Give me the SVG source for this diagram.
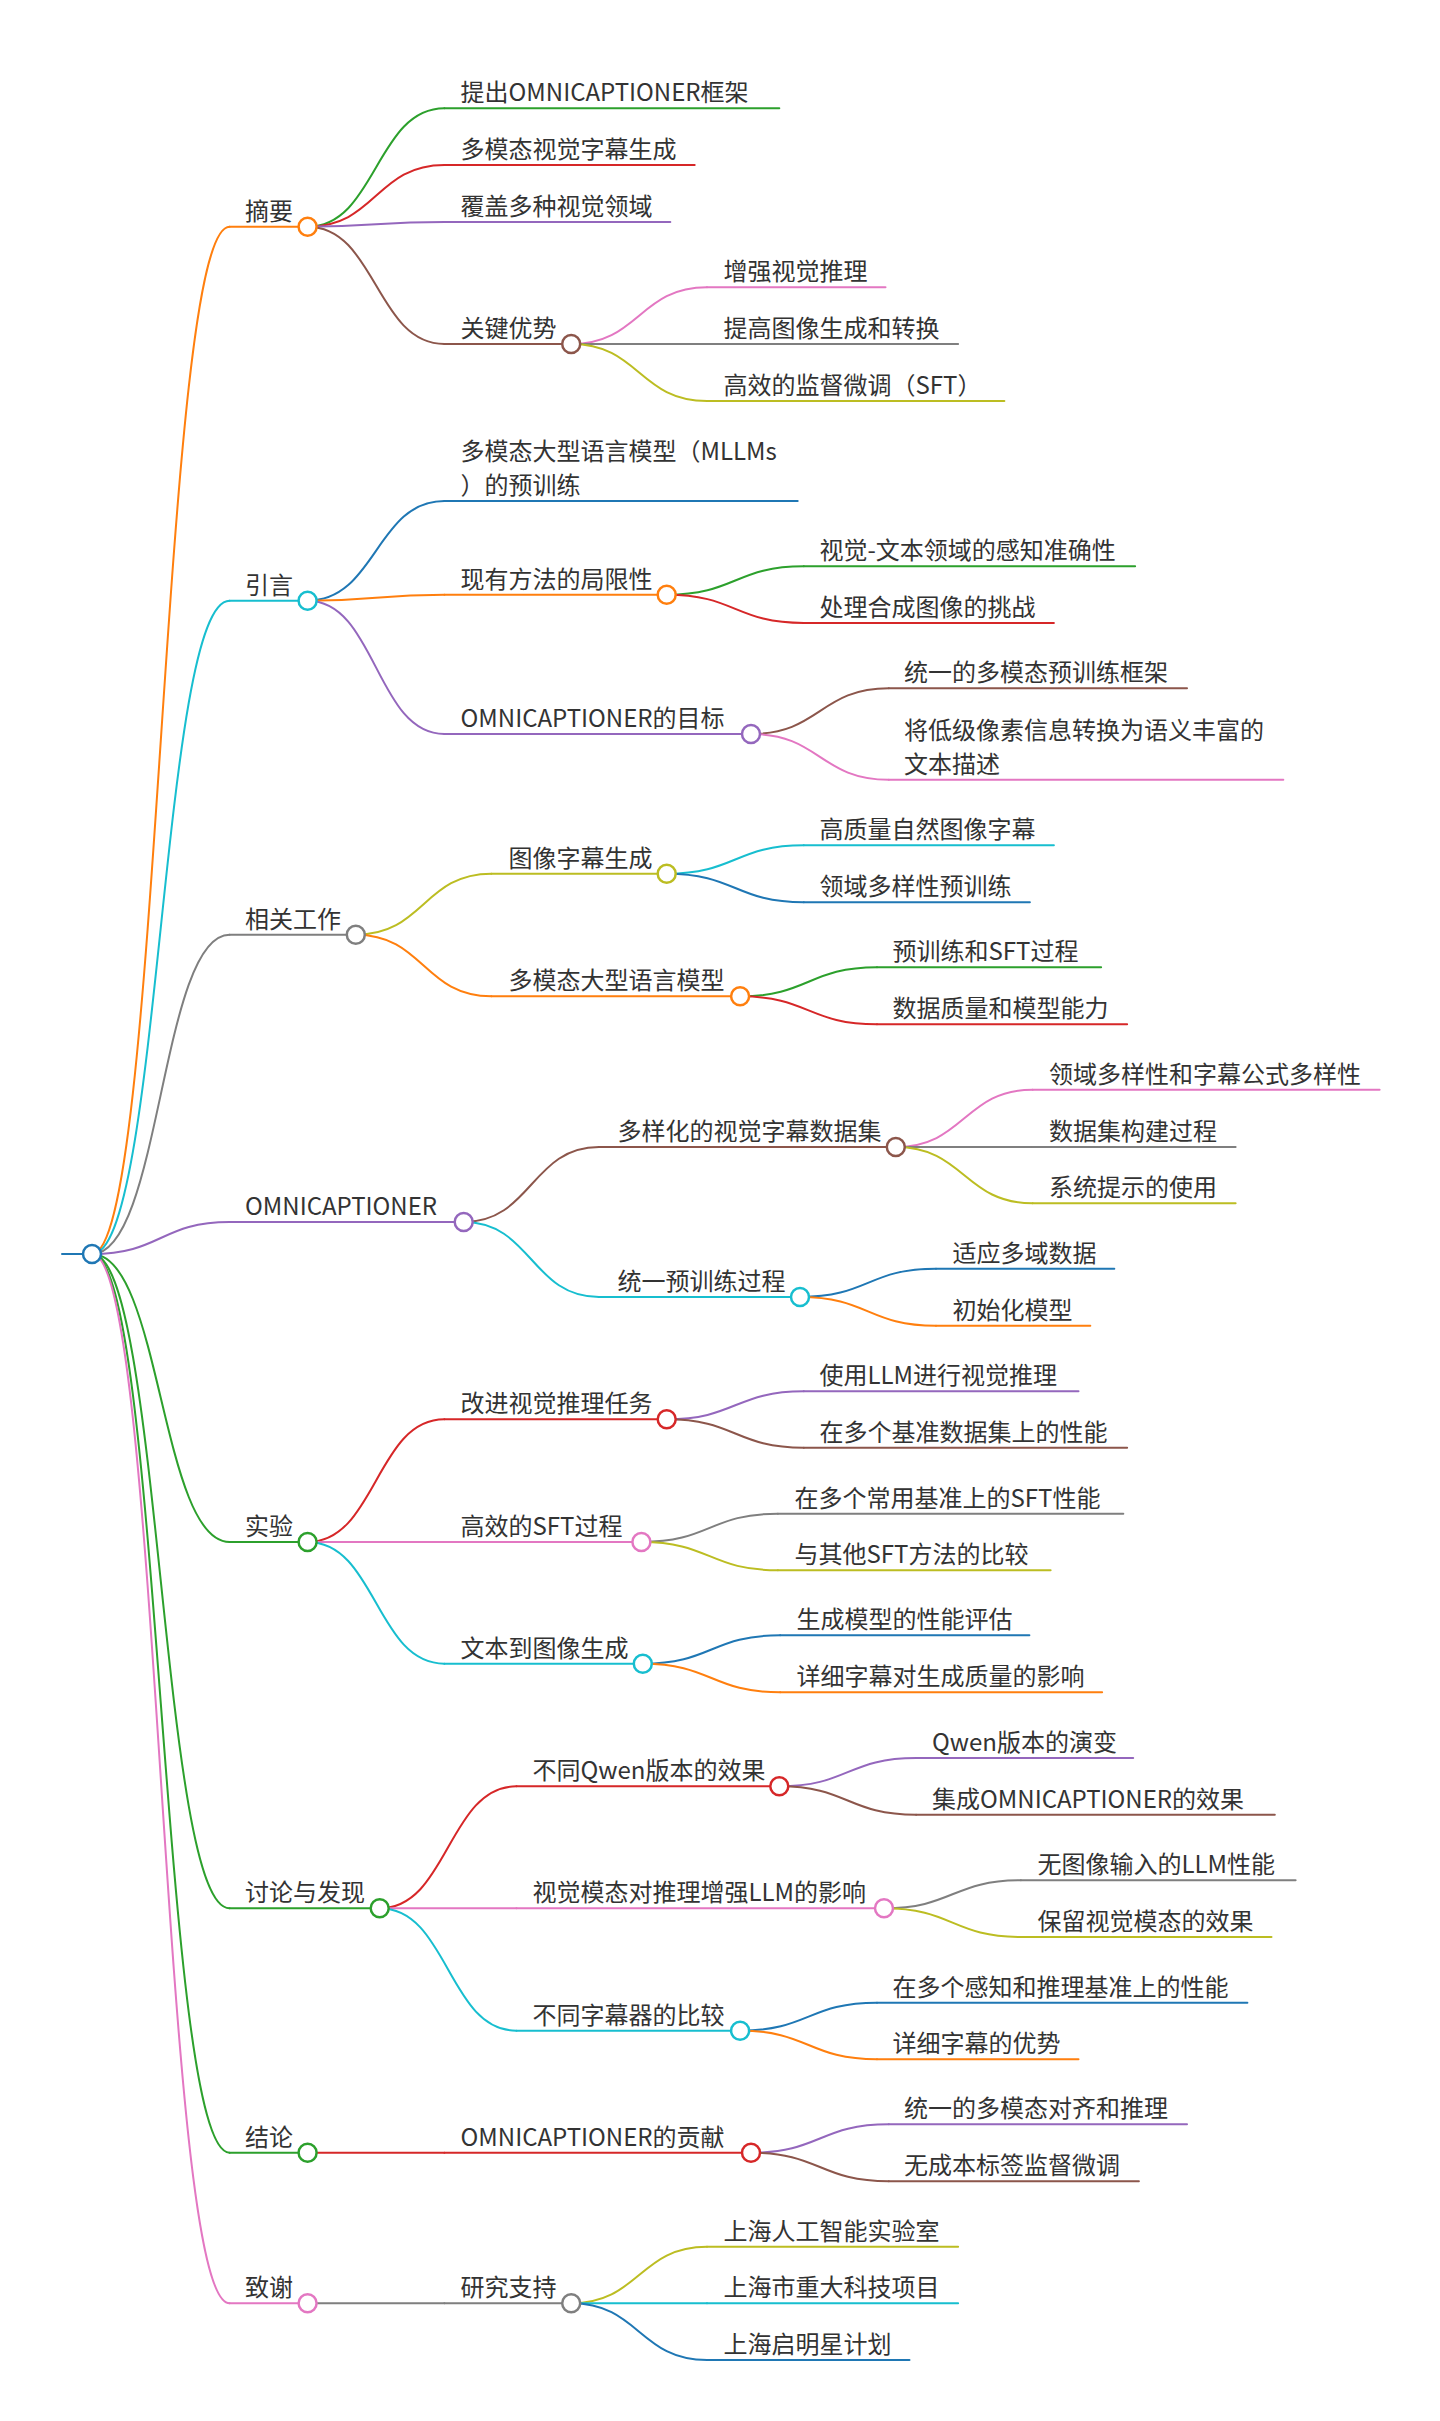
<svg xmlns="http://www.w3.org/2000/svg" width="1440" height="2421" viewBox="0 0 1440 2421">
<style>
.bg{fill:#ffffff}
path,line{fill:none;stroke-width:2;stroke-linecap:round}
circle{fill:#ffffff;stroke-width:2.5}
text{font-family:"Noto Sans CJK SC","Noto Sans",sans-serif;font-size:24px;fill:#333333}
.orange{stroke:#ff7f0e}.cyan{stroke:#17becf}.gray{stroke:#7f7f7f}.purple{stroke:#9467bd}.green{stroke:#2ca02c}.pink{stroke:#e377c2}.red{stroke:#d62728}.brown{stroke:#8c564b}.olive{stroke:#bcbd22}.blue{stroke:#1f77b4}
</style>
<rect class="bg" x="0" y="0" width="1440" height="2421"/>
<g id="connectors">
<path class="orange" d="M92,1254 C160.8,1254 160.8,226.7 229.6,226.7"/>
<path class="cyan" d="M92,1254 C160.8,1254 160.8,600.7 229.6,600.7"/>
<path class="gray" d="M92,1254 C160.8,1254 160.8,934.7 229.6,934.7"/>
<path class="purple" d="M92,1254 C160.8,1254 160.8,1222 229.6,1222"/>
<path class="green" d="M92,1254 C160.8,1254 160.8,1542 229.6,1542"/>
<path class="green" d="M92,1254 C160.8,1254 160.8,1908.3 229.6,1908.3"/>
<path class="green" d="M92,1254 C160.8,1254 160.8,2152.7 229.6,2152.7"/>
<path class="pink" d="M92,1254 C160.8,1254 160.8,2303.3 229.6,2303.3"/>

<path class="green" d="M307.6,226.7 C376,226.7 376,108.3 444.4,108.3"/>
<path class="red" d="M307.6,226.7 C376,226.7 376,165 444.4,165"/>
<path class="purple" d="M307.6,226.7 C376,226.7 376,222 444.4,222"/>
<path class="brown" d="M307.6,226.7 C376,226.7 376,344 444.4,344"/>
<path class="pink" d="M571.2,344 C639.1,344 639.1,287.3 707,287.3"/>
<path class="gray" d="M571.2,344 C639.1,344 639.1,344 707,344"/>
<path class="olive" d="M571.2,344 C639.1,344 639.1,401 707,401"/>

<path class="blue" d="M307.6,600.7 C376,600.7 376,501 444.4,501"/>
<path class="orange" d="M307.6,600.7 C376,600.7 376,594.7 444.4,594.7"/>
<path class="purple" d="M307.6,600.7 C376,600.7 376,734 444.4,734"/>
<path class="green" d="M666.7,594.7 C735.3,594.7 735.3,566.3 803.8,566.3"/>
<path class="red" d="M666.7,594.7 C735.3,594.7 735.3,623 803.8,623"/>
<path class="brown" d="M751,734 C819.9,734 819.9,688.3 888.8,688.3"/>
<path class="pink" d="M751,734 C819.9,734 819.9,779.7 888.8,779.7"/>

<path class="olive" d="M355.8,934.7 C423.6,934.7 423.6,873.7 491.3,873.7"/>
<path class="orange" d="M355.8,934.7 C423.6,934.7 423.6,996.3 491.3,996.3"/>
<path class="cyan" d="M666.7,873.7 C735.3,873.7 735.3,845.3 803.8,845.3"/>
<path class="blue" d="M666.7,873.7 C735.3,873.7 735.3,902.3 803.8,902.3"/>
<path class="green" d="M740.1,996.3 C808.6,996.3 808.6,967.3 877,967.3"/>
<path class="red" d="M740.1,996.3 C808.6,996.3 808.6,1024.3 877,1024.3"/>

<path class="brown" d="M463.7,1222 C531.4,1222 531.4,1147 599,1147"/>
<path class="cyan" d="M463.7,1222 C531.4,1222 531.4,1297 599,1297"/>
<path class="pink" d="M895.8,1147 C964.3,1147 964.3,1089.7 1032.7,1089.7"/>
<path class="gray" d="M895.8,1147 C964.3,1147 964.3,1147 1032.7,1147"/>
<path class="olive" d="M895.8,1147 C964.3,1147 964.3,1203.3 1032.7,1203.3"/>
<path class="blue" d="M800,1297 C868,1297 868,1268.7 936,1268.7"/>
<path class="orange" d="M800,1297 C868,1297 868,1325.7 936,1325.7"/>

<path class="red" d="M307.6,1542 C376,1542 376,1419.3 444.4,1419.3"/>
<path class="pink" d="M307.6,1542 C376,1542 376,1542 444.4,1542"/>
<path class="cyan" d="M307.6,1542 C376,1542 376,1663.7 444.4,1663.7"/>
<path class="purple" d="M666.7,1419.3 C735.3,1419.3 735.3,1391.3 803.8,1391.3"/>
<path class="brown" d="M666.7,1419.3 C735.3,1419.3 735.3,1447.7 803.8,1447.7"/>
<path class="gray" d="M641.4,1542 C709.7,1542 709.7,1513.7 777.9,1513.7"/>
<path class="olive" d="M641.4,1542 C709.7,1542 709.7,1570.3 777.9,1570.3"/>
<path class="blue" d="M642.8,1663.7 C711.5,1663.7 711.5,1635.3 780.2,1635.3"/>
<path class="orange" d="M642.8,1663.7 C711.5,1663.7 711.5,1692.3 780.2,1692.3"/>

<path class="red" d="M379.7,1908.3 C448.1,1908.3 448.1,1786.3 516.5,1786.3"/>
<path class="pink" d="M379.7,1908.3 C448.1,1908.3 448.1,1908.3 516.5,1908.3"/>
<path class="cyan" d="M379.7,1908.3 C448.1,1908.3 448.1,2030.7 516.5,2030.7"/>
<path class="purple" d="M779.3,1786.3 C847.7,1786.3 847.7,1758 916.1,1758"/>
<path class="brown" d="M779.3,1786.3 C847.7,1786.3 847.7,1814.7 916.1,1814.7"/>
<path class="gray" d="M884,1908.3 C952.5,1908.3 952.5,1880.3 1020.9,1880.3"/>
<path class="olive" d="M884,1908.3 C952.5,1908.3 952.5,1937 1020.9,1937"/>
<path class="blue" d="M740.1,2030.7 C808.6,2030.7 808.6,2002.7 877,2002.7"/>
<path class="orange" d="M740.1,2030.7 C808.6,2030.7 808.6,2059.3 877,2059.3"/>

<path class="red" d="M307.6,2152.7 C376,2152.7 376,2152.7 444.4,2152.7"/>
<path class="purple" d="M751,2152.7 C819.9,2152.7 819.9,2124.3 888.8,2124.3"/>
<path class="brown" d="M751,2152.7 C819.9,2152.7 819.9,2181.3 888.8,2181.3"/>

<path class="gray" d="M307.6,2303.3 C376,2303.3 376,2303.3 444.4,2303.3"/>
<path class="olive" d="M571.2,2303.3 C639.1,2303.3 639.1,2246.7 707,2246.7"/>
<path class="cyan" d="M571.2,2303.3 C639.1,2303.3 639.1,2303.3 707,2303.3"/>
<path class="blue" d="M571.2,2303.3 C639.1,2303.3 639.1,2360 707,2360"/>
</g>

<g id="root"><line class="blue" x1="62" y1="1254" x2="92" y2="1254"/><circle class="blue" cx="92" cy="1254" r="9"/></g>

<g id="n1"><line class="orange" x1="229.6" y1="226.7" x2="307.6" y2="226.7"/><text x="245" y="219.7">摘要</text><circle class="orange" cx="307.6" cy="226.7" r="9"/></g>
<g id="n1a"><line class="green" x1="444.4" y1="108.3" x2="779.3" y2="108.3"/><text x="460.5" y="101.3">提出OMNICAPTIONER框架</text></g>
<g id="n1b"><line class="red" x1="444.4" y1="165" x2="694.7" y2="165"/><text x="460.5" y="158">多模态视觉字幕生成</text></g>
<g id="n1c"><line class="purple" x1="444.4" y1="222" x2="670.3" y2="222"/><text x="460.5" y="215">覆盖多种视觉领域</text></g>
<g id="n1d"><line class="brown" x1="444.4" y1="344" x2="571.2" y2="344"/><text x="460.5" y="337">关键优势</text><circle class="brown" cx="571.2" cy="344" r="9"/></g>
<g id="n1d1"><line class="pink" x1="707" y1="287.3" x2="885.5" y2="287.3"/><text x="723.5" y="280.3">增强视觉推理</text></g>
<g id="n1d2"><line class="gray" x1="707" y1="344" x2="958.1" y2="344"/><text x="723.5" y="337">提高图像生成和转换</text></g>
<g id="n1d3"><line class="olive" x1="707" y1="401" x2="1004.4" y2="401"/><text x="723.5" y="394">高效的监督微调（SFT）</text></g>

<g id="n2"><line class="cyan" x1="229.6" y1="600.7" x2="307.6" y2="600.7"/><text x="245" y="593.7">引言</text><circle class="cyan" cx="307.6" cy="600.7" r="9"/></g>
<g id="n2a"><line class="blue" x1="444.4" y1="501" x2="797.7" y2="501"/><text x="460.5" y="459.5">多模态大型语言模型（MLLMs</text><text x="460.5" y="493.5">）的预训练</text></g>
<g id="n2b"><line class="orange" x1="444.4" y1="594.7" x2="666.7" y2="594.7"/><text x="460.5" y="587.7">现有方法的局限性</text><circle class="orange" cx="666.7" cy="594.7" r="9"/></g>
<g id="n2b1"><line class="green" x1="803.8" y1="566.3" x2="1135.1" y2="566.3"/><text x="819.5" y="559.3">视觉-文本领域的感知准确性</text></g>
<g id="n2b2"><line class="red" x1="803.8" y1="623" x2="1053.9" y2="623"/><text x="819.5" y="616">处理合成图像的挑战</text></g>
<g id="n2c"><line class="purple" x1="444.4" y1="734" x2="751" y2="734"/><text x="460.5" y="727">OMNICAPTIONER的目标</text><circle class="purple" cx="751" cy="734" r="9"/></g>
<g id="n2c1"><line class="brown" x1="888.8" y1="688.3" x2="1187" y2="688.3"/><text x="904" y="681.3">统一的多模态预训练框架</text></g>
<g id="n2c2"><line class="pink" x1="888.8" y1="779.7" x2="1283.3" y2="779.7"/><text x="904" y="738.5">将低级像素信息转换为语义丰富的</text><text x="904" y="772.5">文本描述</text></g>

<g id="n3"><line class="gray" x1="229.6" y1="934.7" x2="355.8" y2="934.7"/><text x="245" y="927.7">相关工作</text><circle class="gray" cx="355.8" cy="934.7" r="9"/></g>
<g id="n3a"><line class="olive" x1="491.3" y1="873.7" x2="666.7" y2="873.7"/><text x="508.5" y="866.7">图像字幕生成</text><circle class="olive" cx="666.7" cy="873.7" r="9"/></g>
<g id="n3a1"><line class="cyan" x1="803.8" y1="845.3" x2="1053.9" y2="845.3"/><text x="819.5" y="838.3">高质量自然图像字幕</text></g>
<g id="n3a2"><line class="blue" x1="803.8" y1="902.3" x2="1029.9" y2="902.3"/><text x="819.5" y="895.3">领域多样性预训练</text></g>
<g id="n3b"><line class="orange" x1="491.3" y1="996.3" x2="740.1" y2="996.3"/><text x="508.5" y="989.3">多模态大型语言模型</text><circle class="orange" cx="740.1" cy="996.3" r="9"/></g>
<g id="n3b1"><line class="green" x1="877" y1="967.3" x2="1101.1" y2="967.3"/><text x="892.5" y="960.3">预训练和SFT过程</text></g>
<g id="n3b2"><line class="red" x1="877" y1="1024.3" x2="1127.1" y2="1024.3"/><text x="892.5" y="1017.3">数据质量和模型能力</text></g>

<g id="n4"><line class="purple" x1="229.6" y1="1222" x2="463.7" y2="1222"/><text x="245" y="1215">OMNICAPTIONER</text><circle class="purple" cx="463.7" cy="1222" r="9"/></g>
<g id="n4a"><line class="brown" x1="599" y1="1147" x2="895.8" y2="1147"/><text x="617.5" y="1140">多样化的视觉字幕数据集</text><circle class="brown" cx="895.8" cy="1147" r="9"/></g>
<g id="n4a1"><line class="pink" x1="1032.7" y1="1089.7" x2="1379.6" y2="1089.7"/><text x="1049" y="1082.7">领域多样性和字幕公式多样性</text></g>
<g id="n4a2"><line class="gray" x1="1032.7" y1="1147" x2="1235.6" y2="1147"/><text x="1049" y="1140">数据集构建过程</text></g>
<g id="n4a3"><line class="olive" x1="1032.7" y1="1203.3" x2="1235.6" y2="1203.3"/><text x="1049" y="1196.3">系统提示的使用</text></g>
<g id="n4b"><line class="cyan" x1="599" y1="1297" x2="800" y2="1297"/><text x="617.5" y="1290">统一预训练过程</text><circle class="cyan" cx="800" cy="1297" r="9"/></g>
<g id="n4b1"><line class="blue" x1="936" y1="1268.7" x2="1114.3" y2="1268.7"/><text x="952.5" y="1261.7">适应多域数据</text></g>
<g id="n4b2"><line class="orange" x1="936" y1="1325.7" x2="1090.3" y2="1325.7"/><text x="952.5" y="1318.7">初始化模型</text></g>

<g id="n5"><line class="green" x1="229.6" y1="1542" x2="307.6" y2="1542"/><text x="245" y="1535">实验</text><circle class="green" cx="307.6" cy="1542" r="9"/></g>
<g id="n5a"><line class="red" x1="444.4" y1="1419.3" x2="666.7" y2="1419.3"/><text x="460.5" y="1412.3">改进视觉推理任务</text><circle class="red" cx="666.7" cy="1419.3" r="9"/></g>
<g id="n5a1"><line class="purple" x1="803.8" y1="1391.3" x2="1078.5" y2="1391.3"/><text x="819.5" y="1384.3">使用LLM进行视觉推理</text></g>
<g id="n5a2"><line class="brown" x1="803.8" y1="1447.7" x2="1127.1" y2="1447.7"/><text x="819.5" y="1440.7">在多个基准数据集上的性能</text></g>
<g id="n5b"><line class="pink" x1="444.4" y1="1542" x2="641.4" y2="1542"/><text x="460.5" y="1535">高效的SFT过程</text><circle class="pink" cx="641.4" cy="1542" r="9"/></g>
<g id="n5b1"><line class="gray" x1="777.9" y1="1513.7" x2="1123.3" y2="1513.7"/><text x="794.5" y="1506.7">在多个常用基准上的SFT性能</text></g>
<g id="n5b2"><line class="olive" x1="777.9" y1="1570.3" x2="1050.6" y2="1570.3"/><text x="794.5" y="1563.3">与其他SFT方法的比较</text></g>
<g id="n5c"><line class="cyan" x1="444.4" y1="1663.7" x2="642.8" y2="1663.7"/><text x="460.5" y="1656.7">文本到图像生成</text><circle class="cyan" cx="642.8" cy="1663.7" r="9"/></g>
<g id="n5c1"><line class="blue" x1="780.2" y1="1635.3" x2="1029.4" y2="1635.3"/><text x="796.5" y="1628.3">生成模型的性能评估</text></g>
<g id="n5c2"><line class="orange" x1="780.2" y1="1692.3" x2="1102.1" y2="1692.3"/><text x="796.5" y="1685.3">详细字幕对生成质量的影响</text></g>

<g id="n6"><line class="green" x1="229.6" y1="1908.3" x2="379.7" y2="1908.3"/><text x="245" y="1901.3">讨论与发现</text><circle class="green" cx="379.7" cy="1908.3" r="9"/></g>
<g id="n6a"><line class="red" x1="516.5" y1="1786.3" x2="779.3" y2="1786.3"/><text x="532.5" y="1779.3">不同Qwen版本的效果</text><circle class="red" cx="779.3" cy="1786.3" r="9"/></g>
<g id="n6a1"><line class="purple" x1="916.1" y1="1758" x2="1133.2" y2="1758"/><text x="932" y="1751">Qwen版本的演变</text></g>
<g id="n6a2"><line class="brown" x1="916.1" y1="1814.7" x2="1274.8" y2="1814.7"/><text x="932" y="1807.7">集成OMNICAPTIONER的效果</text></g>
<g id="n6b"><line class="pink" x1="516.5" y1="1908.3" x2="884" y2="1908.3"/><text x="532.5" y="1901.3">视觉模态对推理增强LLM的影响</text><circle class="pink" cx="884" cy="1908.3" r="9"/></g>
<g id="n6b1"><line class="gray" x1="1020.9" y1="1880.3" x2="1295.6" y2="1880.3"/><text x="1037.5" y="1873.3">无图像输入的LLM性能</text></g>
<g id="n6b2"><line class="olive" x1="1020.9" y1="1937" x2="1271.5" y2="1937"/><text x="1037.5" y="1930">保留视觉模态的效果</text></g>
<g id="n6c"><line class="cyan" x1="516.5" y1="2030.7" x2="740.1" y2="2030.7"/><text x="532.5" y="2023.7">不同字幕器的比较</text><circle class="cyan" cx="740.1" cy="2030.7" r="9"/></g>
<g id="n6c1"><line class="blue" x1="877" y1="2002.7" x2="1247.4" y2="2002.7"/><text x="892.5" y="1995.7">在多个感知和推理基准上的性能</text></g>
<g id="n6c2"><line class="orange" x1="877" y1="2059.3" x2="1078.5" y2="2059.3"/><text x="892.5" y="2052.3">详细字幕的优势</text></g>

<g id="n7"><line class="green" x1="229.6" y1="2152.7" x2="307.6" y2="2152.7"/><text x="245" y="2145.7">结论</text><circle class="green" cx="307.6" cy="2152.7" r="9"/></g>
<g id="n7a"><line class="red" x1="444.4" y1="2152.7" x2="751" y2="2152.7"/><text x="460.5" y="2145.7">OMNICAPTIONER的贡献</text><circle class="red" cx="751" cy="2152.7" r="9"/></g>
<g id="n7a1"><line class="purple" x1="888.8" y1="2124.3" x2="1187" y2="2124.3"/><text x="904" y="2117.3">统一的多模态对齐和推理</text></g>
<g id="n7a2"><line class="brown" x1="888.8" y1="2181.3" x2="1138.9" y2="2181.3"/><text x="904" y="2174.3">无成本标签监督微调</text></g>

<g id="n8"><line class="pink" x1="229.6" y1="2303.3" x2="307.6" y2="2303.3"/><text x="245" y="2296.3">致谢</text><circle class="pink" cx="307.6" cy="2303.3" r="9"/></g>
<g id="n8a"><line class="gray" x1="444.4" y1="2303.3" x2="571.2" y2="2303.3"/><text x="460.5" y="2296.3">研究支持</text><circle class="gray" cx="571.2" cy="2303.3" r="9"/></g>
<g id="n8a1"><line class="olive" x1="707" y1="2246.7" x2="958.1" y2="2246.7"/><text x="723.5" y="2239.7">上海人工智能实验室</text></g>
<g id="n8a2"><line class="cyan" x1="707" y1="2303.3" x2="958.1" y2="2303.3"/><text x="723.5" y="2296.3">上海市重大科技项目</text></g>
<g id="n8a3"><line class="blue" x1="707" y1="2360" x2="909.5" y2="2360"/><text x="723.5" y="2353">上海启明星计划</text></g>
</svg>
